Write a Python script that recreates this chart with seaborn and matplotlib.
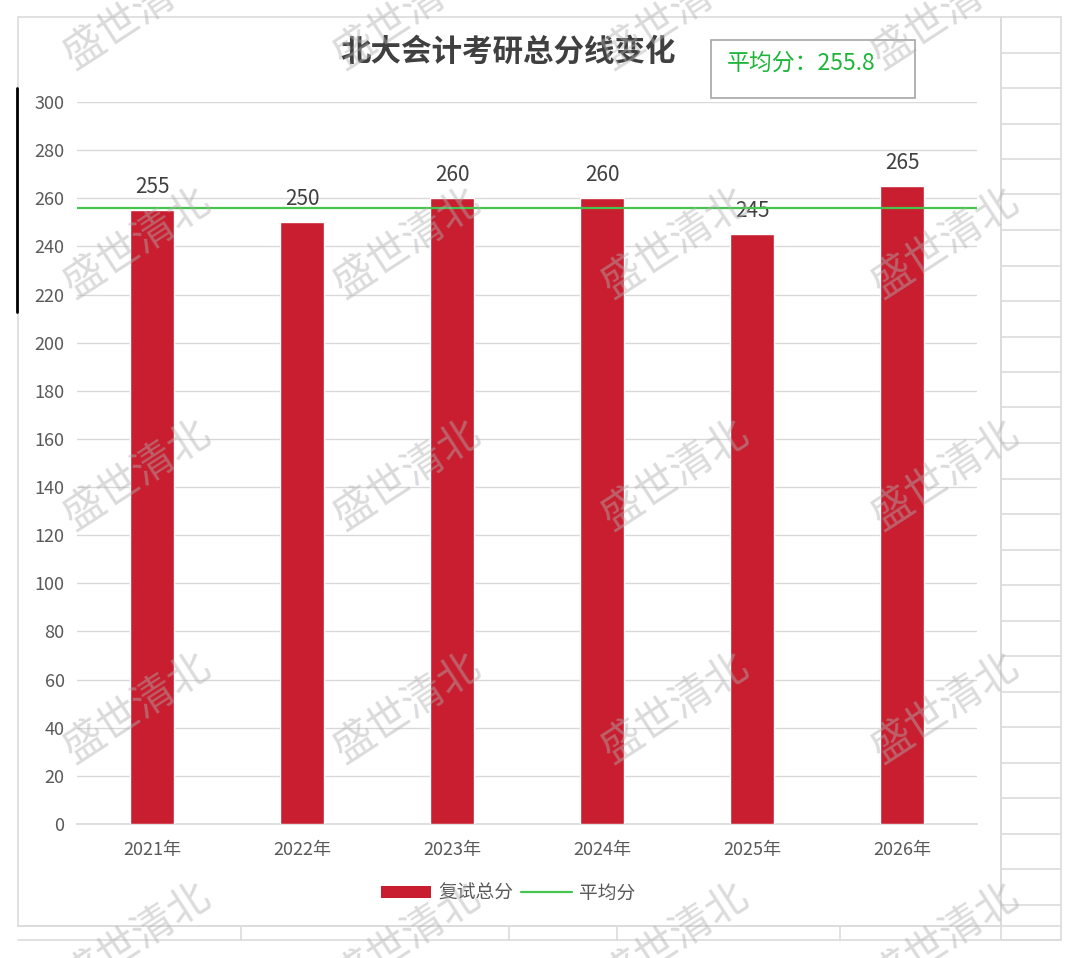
import numpy as np
import pandas as pd
import matplotlib
matplotlib.use("Agg")
import matplotlib.pyplot as plt
from matplotlib.lines import Line2D
from matplotlib.patches import Patch, Rectangle
import seaborn as sns

# data
years = ["2021年", "2022年", "2023年", "2024年", "2025年", "2026年"]
scores = [255, 250, 260, 260, 245, 265]
avgScore = 255.8
titleText = "北大会计考研总分线变化"
barLabel = "复试总分"
lineLabel = "平均分"
watermark = "盛世清北"

sns.set_theme(style="white")
plt.rcParams['font.family'] = ['Noto Sans CJK SC', 'DejaVu Sans']

W, H = 1080, 958
barColor = "#C81E2F"
lineColor = "#45C44E"
gridColor = "#D9D9D9"

fig = plt.figure(figsize=(W / 100, H / 100), dpi=100)


def fx(px):
    return px / W


def fy(py):
    return 1 - py / H


# spreadsheet cell lines around the chart
cellColor = "#DCDCDC"
for x in [1001, 1061]:
    fig.add_artist(Line2D([fx(x), fx(x)], [fy(17), fy(940)], color=cellColor, lw=1.2))
for y in np.linspace(17, 940, 27):
    fig.add_artist(Line2D([fx(1001), fx(1061)], [fy(y), fy(y)], color=cellColor, lw=1.2))
for y in [926, 940]:
    fig.add_artist(Line2D([fx(18), fx(1061)], [fy(y), fy(y)], color=cellColor, lw=1.2))
for x in [241, 509, 617, 840]:
    fig.add_artist(Line2D([fx(x), fx(x)], [fy(926), fy(940)], color=cellColor, lw=1.2))
# chart area border
fig.add_artist(Rectangle((fx(18), fy(926)), fx(1001) - fx(18), fy(17) - fy(926),
                         fill=False, edgecolor=cellColor, lw=1.2))
# stray dark bar on the left
fig.add_artist(Line2D([fx(17), fx(17)], [fy(88), fy(312)], color="black", lw=2))

ax = fig.add_axes([fx(77), fy(824), fx(977) - fx(77), fy(102) - fy(824)])
df = pd.DataFrame({"year": years, "score": scores})
sns.barplot(data=df, x="year", y="score", color=barColor, width=0.29,
            saturation=1, ax=ax, zorder=3)
ax.axhline(avgScore, color=lineColor, lw=1.6, zorder=4)

ax.set_ylim(0, 300)
ax.set_yticks(np.arange(0, 301, 20))
ax.set_xlabel("")
ax.set_ylabel("")
ax.grid(axis="y", color=gridColor, lw=1, zorder=0)
ax.set_axisbelow(True)
for s in ["top", "right", "left"]:
    ax.spines[s].set_visible(False)
ax.spines["bottom"].set_color(gridColor)
ax.spines["bottom"].set_linewidth(1.2)
ax.tick_params(axis="y", length=0, pad=9, labelsize=13, labelcolor="#595959")
ax.tick_params(axis="x", length=0, pad=12, labelsize=13, labelcolor="#595959")

for c in ax.containers:
    ax.bar_label(c, padding=9, fontsize=15, color="#404040")

# title and average box
fig.text(fx(508), fy(52), titleText, ha="center", va="center",
         fontsize=22, fontweight="bold", color="#404040")
fig.add_artist(Rectangle((fx(711), fy(98)), fx(915) - fx(711), fy(40) - fy(98),
                         fill=False, edgecolor="#A6A6A6", lw=1.2))
fig.text(fx(727), fy(63), f"平均分：{avgScore}", ha="left", va="center",
         fontsize=16.5, color="#1DB63A")

handles = [Patch(facecolor=barColor, edgecolor="none"),
           Line2D([0], [0], color=lineColor, lw=1.6)]
fig.legend(handles, [barLabel, lineLabel], loc="center", bbox_to_anchor=(fx(508), fy(893)),
           ncol=2, frameon=False, fontsize=13.5, labelcolor="#595959",
           handlelength=2.7, handleheight=0.6, columnspacing=0.4, handletextpad=0.4)

# watermark grid
for cy in [14, 243, 475, 708, 938]:
    for cx in [137, 407, 675, 945]:
        fig.text(fx(cx), fy(cy), watermark, ha="center", va="center", rotation=33,
                 fontsize=30, color="#B0B0B0", alpha=0.45, zorder=10)

fig.savefig("out.png", dpi=100)
